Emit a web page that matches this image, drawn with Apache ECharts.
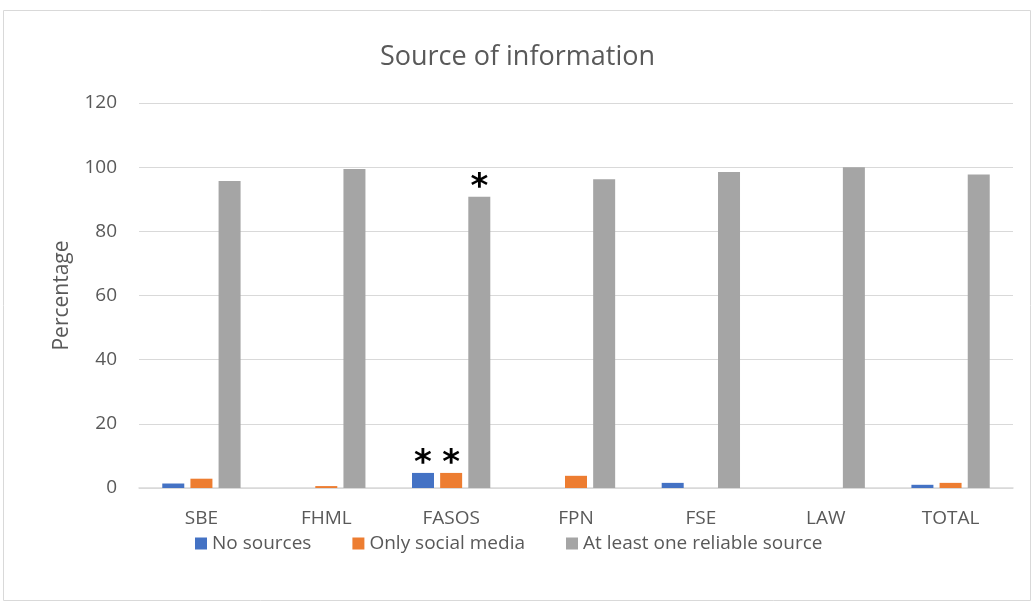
<!DOCTYPE html>
<html>
<head>
<meta charset="utf-8">
<script src="https://cdn.jsdelivr.net/npm/echarts@6/dist/echarts.min.js"></script>
<style>
  html, body { margin: 0; padding: 0; background: #fff; }
  #chart { width: 1035px; height: 605px; }
</style>
</head>
<body>
<div id="chart"></div>
<script>
// categories and series values
const categories = ['SBE', 'FHML', 'FASOS', 'FPN', 'FSE', 'LAW', 'TOTAL']
const noSources = [1.4, 0, 4.7, 0, 1.6, 0, 1.0]
const onlySocial = [2.9, 0.6, 4.7, 3.8, 0, 0, 1.6]
const reliable = [95.7, 99.4, 90.8, 96.2, 98.5, 100, 97.7]
// categories marked with an asterisk (index into categories)
const starNo = [2]
const starSocial = [2]
const starReliable = [2]

const font = '"Open Sans", "Noto Sans", sans-serif'

function withStars(values, stars) {
  return values.map((v, i) => {
    if (stars.indexOf(i) < 0) return v
    return {
      value: v,
      label: {
        show: true,
        formatter: '*',
        position: 'top',
        distance: -8,
        color: '#000',
        fontSize: 34,
        fontWeight: 'bold',
        fontFamily: 'DejaVu Sans'
      }
    }
  })
}

function barSeries(name, color, values, stars) {
  return {
    name: name,
    type: 'bar',
    barWidth: 22,
    barGap: '28%',
    itemStyle: { color: color },
    data: withStars(values, stars)
  }
}

let myChart = echarts.init(document.getElementById('chart'))
myChart.setOption({
  animation: false,
  textStyle: { fontFamily: font },
  graphic: [{
    type: 'rect',
    shape: { x: 3.5, y: 10.5, width: 1027, height: 590 },
    style: { fill: 'none', stroke: '#d9d9d9', lineWidth: 1 }
  }],
  title: {
    text: 'Source of information',
    left: 'center',
    top: 39,
    textStyle: { color: '#595959', fontSize: 27, fontWeight: 'normal', fontFamily: font }
  },
  grid: { left: 139, right: 22, top: 103, bottom: 117 },
  legend: {
    data: ['No sources', 'Only social media', 'At least one reliable source'],
    bottom: 47,
    left: 190,
    icon: 'rect',
    itemWidth: 12,
    itemHeight: 12,
    itemGap: 41,
    textStyle: { color: '#595959', fontSize: 19, fontFamily: font }
  },
  xAxis: {
    type: 'category',
    data: categories,
    axisLine: { show: true, lineStyle: { color: '#d9d9d9', width: 1.5 } },
    axisTick: { show: false },
    axisLabel: { color: '#595959', fontSize: 19, margin: 21 }
  },
  yAxis: {
    type: 'value',
    min: 0,
    max: 120,
    interval: 20,
    name: 'Percentage',
    nameLocation: 'middle',
    nameGap: 66,
    nameTextStyle: { color: '#595959', fontSize: 21 },
    splitLine: { show: true, lineStyle: { color: '#d9d9d9', width: 1 } },
    axisLine: { show: false },
    axisTick: { show: false },
    axisLabel: { color: '#595959', fontSize: 19, margin: 22 }
  },
  series: [
    barSeries('No sources', '#4472C4', noSources, starNo),
    barSeries('Only social media', '#ED7D31', onlySocial, starSocial),
    barSeries('At least one reliable source', '#A5A5A5', reliable, starReliable)
  ]
})
</script>
</body>
</html>
